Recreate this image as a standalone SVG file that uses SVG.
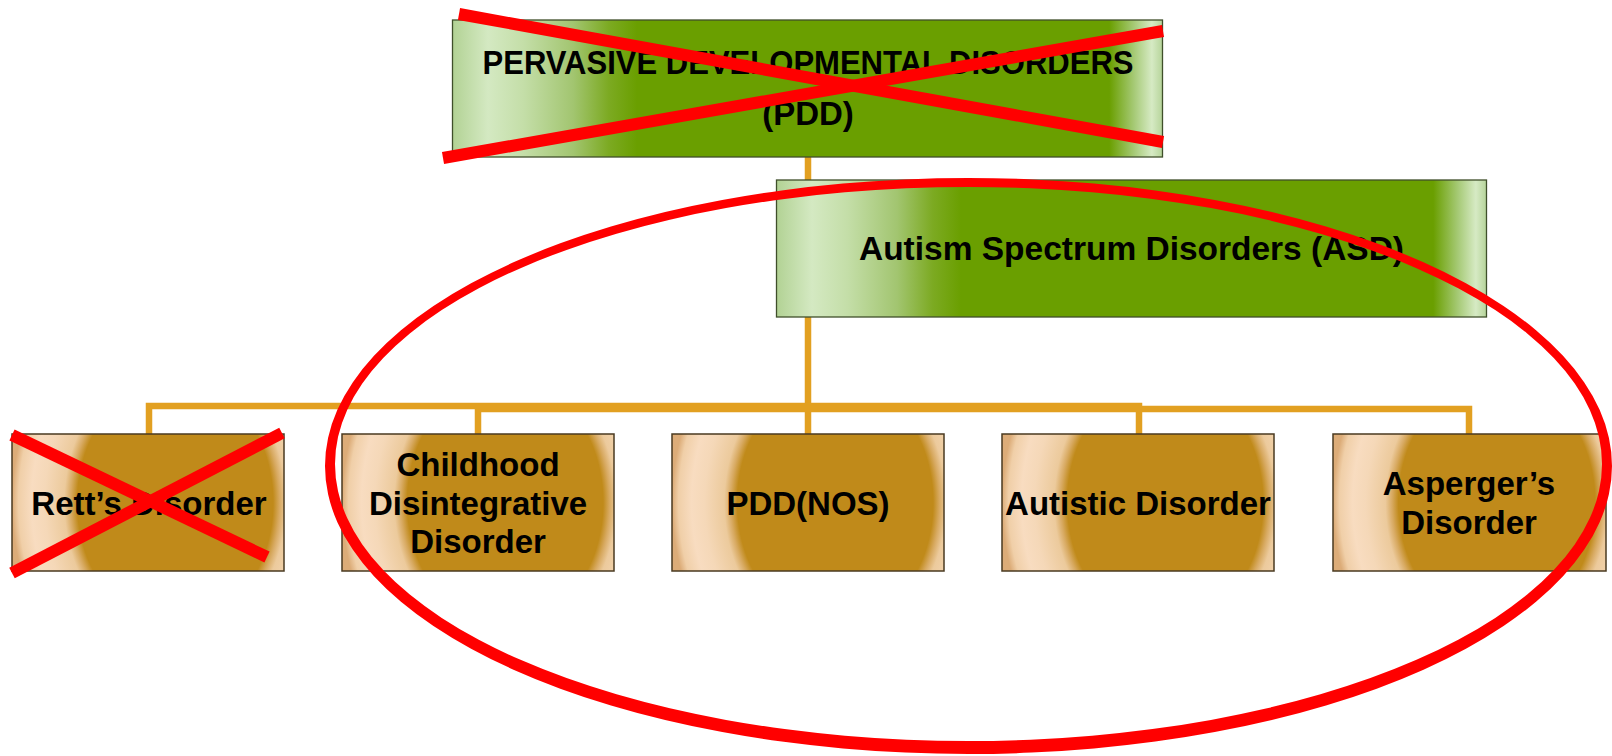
<svg xmlns="http://www.w3.org/2000/svg" width="1612" height="756" viewBox="0 0 1612 756">
  <style>
    .lbl { font-family: "Liberation Sans", Arial, sans-serif; font-weight: bold; fill: #000; text-anchor: middle; }
    .big { font-size: 33px; }
    .small { font-size: 33px; }
    .conn { fill: none; stroke: #e2a021; stroke-width: 6.5; stroke-linejoin: miter; }
    .gbox { fill: url(#greenFill); stroke: #3f4f2a; stroke-width: 1.3; }
    .obox { fill: url(#goldFill); stroke: #4a3a20; stroke-width: 1.5; }
    .strike { stroke: #ff0000; stroke-width: 12; stroke-linecap: butt; fill: none; }
  </style>
  <defs>
    <linearGradient id="greenFill" x1="0" y1="0" x2="1" y2="0">
      <stop offset="0" stop-color="#b2d294"/>
      <stop offset="0.05" stop-color="#d4e9c2"/>
      <stop offset="0.1" stop-color="#c4dea8"/>
      <stop offset="0.17" stop-color="#a2c570"/>
      <stop offset="0.22" stop-color="#7caa22"/>
      <stop offset="0.26" stop-color="#6a9f00"/>
      <stop offset="0.925" stop-color="#6a9f00"/>
      <stop offset="0.96" stop-color="#a6ca76"/>
      <stop offset="0.985" stop-color="#d6eac4"/>
      <stop offset="1" stop-color="#b6d49a"/>
    </linearGradient>
    <!-- soft oval highlight: gold centre, pale peach at the side edges -->
    <radialGradient id="goldFill" gradientUnits="objectBoundingBox" cx="0.6" cy="0.5" r="0.6"
                    gradientTransform="translate(0.6 0.5) scale(1 2.52) translate(-0.6 -0.5)">
      <stop offset="0" stop-color="#c08a1a"/>
      <stop offset="0.6" stop-color="#c08a1a"/>
      <stop offset="0.64" stop-color="#d8aa62"/>
      <stop offset="0.68" stop-color="#ecca9c"/>
      <stop offset="0.8" stop-color="#f5d8b8"/>
      <stop offset="0.88" stop-color="#f8dcc0"/>
      <stop offset="0.96" stop-color="#f0cfa8"/>
      <stop offset="1" stop-color="#dcac78"/>
    </radialGradient>
  </defs>

  <!-- connectors -->
  <g id="connectors">
    <path class="conn" d="M808,157 V434"/>
    <path class="conn" d="M149,434 V406 H1139 V434"/>
    <path class="conn" d="M478,434 V409 H1469 V434"/>
  </g>

  <!-- top level -->
  <g id="node-pdd">
    <rect class="gbox" x="452.5" y="20" width="710" height="137"/>
    <text class="lbl big" x="808" y="74" textLength="651" lengthAdjust="spacingAndGlyphs">PERVASIVE DEVELOPMENTAL DISORDERS</text>
    <text class="lbl big" x="808" y="125">(PDD)</text>
  </g>

  <g id="node-asd">
    <rect class="gbox" x="776.5" y="180" width="710" height="137"/>
    <text class="lbl big" x="1131.5" y="260" textLength="545" lengthAdjust="spacingAndGlyphs">Autism Spectrum Disorders (ASD)</text>
  </g>

  <!-- disorders -->
  <g id="node-rett">
    <rect class="obox" x="12" y="434" width="272" height="137"/>
    <text class="lbl small" x="149" y="515">Rett’s Disorder</text>
  </g>

  <g id="node-cdd">
    <rect class="obox" x="342" y="434" width="272" height="137"/>
    <text class="lbl small" x="478" y="476">Childhood</text>
    <text class="lbl small" x="478" y="515">Disintegrative</text>
    <text class="lbl small" x="478" y="553">Disorder</text>
  </g>

  <g id="node-pddnos">
    <rect class="obox" x="672" y="434" width="272" height="137"/>
    <text class="lbl small" x="808" y="515">PDD(NOS)</text>
  </g>

  <g id="node-autistic">
    <rect class="obox" x="1002" y="434" width="272" height="137"/>
    <text class="lbl small" x="1138" y="515">Autistic Disorder</text>
  </g>

  <g id="node-asperger">
    <rect class="obox" x="1333" y="434" width="273" height="137"/>
    <text class="lbl small" x="1469" y="495">Asperger’s</text>
    <text class="lbl small" x="1469" y="534">Disorder</text>
  </g>

  <!-- hand-drawn annotations -->
  <g id="annotations">
    <path fill="#ff0000" fill-rule="evenodd"
          d="M325,466 a643.5,288 0 1,0 1287,0 a643.5,288 0 1,0 -1287,0 Z
             M335,464 a633.5,277 0 1,0 1267,0 a633.5,277 0 1,0 -1267,0 Z"/>
    <line class="strike" x1="459" y1="14" x2="1163" y2="142"/>
    <line class="strike" x1="443" y1="158" x2="1163" y2="31"/>
    <line class="strike" x1="12" y1="435" x2="267" y2="557"/>
    <line class="strike" x1="12" y1="573" x2="282" y2="433"/>
  </g>
</svg>
